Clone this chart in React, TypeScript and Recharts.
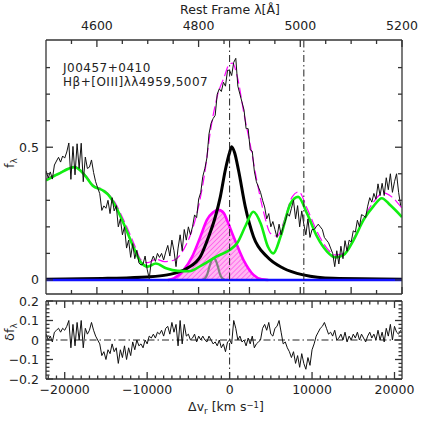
import { ComposedChart, Line, Area, XAxis, YAxis, ReferenceLine } from "recharts";

// velocity frame of Hbeta
const C_KMS = 299792;
const HB_REST = 4861;
const V_MIN = -22270;
const V_MAX = 20910;
const LINE_5007 = 5007;

// observed spectrum + residuals, sampled every 250 km/s from -22250
const SPEC_START = -22250;
const SPEC_STEP = 250;
const OBS_FLUX = [
  0.411, 0.384, 0.407, 0.38, 0.433,
  0.448, 0.462, 0.444, 0.467, 0.459, 0.482,
  0.516, 0.379, 0.503, 0.396, 0.513, 0.42,
  0.515, 0.37, 0.463, 0.42, 0.425, 0.452,
  0.405, 0.37, 0.347, 0.325, 0.262, 0.279,
  0.27, 0.3, 0.25, 0.31, 0.26, 0.28,
  0.2, 0.23, 0.17, 0.2, 0.12, 0.15,
  0.085, 0.137, 0.08, 0.112, 0.064, 0.056,
  0.06, 0.09, 0.04, 0.005, 0.07, 0.09,
  0.07, 0.1, 0.085, 0.1, 0.075, 0.105,
  0.13, 0.09, 0.15, 0.11, 0.05, 0.12,
  0.17, 0.11, 0.19, 0.15, 0.2, 0.17,
  0.2, 0.245, 0.235, 0.305, 0.33, 0.39,
  0.42, 0.46, 0.55, 0.59, 0.608, 0.62,
  0.7, 0.72, 0.71, 0.745, 0.73, 0.79,
  0.79, 0.77, 0.82, 0.835, 0.73, 0.7,
  0.67, 0.64, 0.57, 0.57, 0.49, 0.485,
  0.41, 0.37, 0.35, 0.33, 0.3, 0.275,
  0.23, 0.25, 0.2, 0.22, 0.19, 0.16,
  0.21, 0.17, 0.2, 0.22, 0.25, 0.24,
  0.27, 0.3, 0.23, 0.28, 0.2, 0.26,
  0.21, 0.17, 0.23, 0.16, 0.19, 0.19,
  0.2, 0.21, 0.2, 0.19, 0.16, 0.15,
  0.14, 0.12, 0.1, 0.05, 0.11, 0.06,
  0.127, 0.08, 0.148, 0.108, 0.15, 0.143,
  0.185, 0.18, 0.225, 0.2, 0.246, 0.242,
  0.235, 0.278, 0.31, 0.293, 0.326, 0.304,
  0.362, 0.318, 0.364, 0.318, 0.385, 0.34,
  0.4, 0.33, 0.37, 0.4, 0.33, 0.28,
];
const RESID = [
  0.03, 0.0, 0.02, -0.01, 0.04,
  0.05, 0.06, 0.04, 0.06, 0.05, 0.07,
  0.1, -0.04, 0.08, -0.03, 0.09, 0.0,
  0.1, -0.04, 0.06, 0.03, 0.05, 0.09,
  0.05, 0.02, 0.0, -0.02, -0.08, -0.06,
  -0.1, -0.05, -0.07, -0.02, -0.06, -0.04,
  -0.12, -0.05, -0.09, -0.03, -0.1, -0.04,
  -0.08, -0.01, -0.05, 0.0, -0.03, -0.02,
  -0.04, 0.0, -0.02, 0.02, 0.01, 0.03,
  0.01, 0.04, 0.03, 0.05, 0.02, 0.06,
  0.07, 0.03, 0.09, 0.04, 0.08, -0.03,
  0.1, -0.02, 0.08, 0.02, 0.03, 0.0,
  0.01, 0.03, -0.01, 0.02, 0.0, 0.02,
  0.0, -0.01, 0.02, 0.0, -0.02, -0.01,
  -0.03, 0.0, -0.04, -0.02, -0.06, -0.01,
  0.0, -0.02, 0.1, 0.06, 0.0, 0.02,
  -0.01, 0.0, -0.03, 0.01, -0.02, 0.02,
  -0.04, -0.02, -0.01, 0.0, 0.06, 0.08,
  0.05, 0.09, 0.03, 0.02, 0.06, 0.07,
  0.1, 0.04, -0.02, -0.01, -0.04, -0.06,
  -0.09, -0.06, -0.12, -0.08, -0.14, -0.07,
  -0.12, -0.15, -0.09, -0.13, -0.05, -0.02,
  0.02, 0.04, 0.06, 0.07, 0.09, 0.06,
  0.03, 0.04, 0.02, 0.05, 0.0, 0.01,
  0.03, 0.0, 0.04, -0.01, 0.02, 0.0,
  0.03, 0.01, 0.04, 0.0, 0.03, 0.01,
  -0.01, 0.02, 0.04, 0.01, 0.03, 0.0,
  0.05, 0.0, 0.04, -0.01, 0.06, 0.02,
  0.08, 0.0, 0.07, 0.04, 0.03, 0.05,
];

// model components [velocity, flux]
const TOTAL_FIT = [
  [-22270, 0.381], [-20800, 0.401], [-18790, 0.426], [-17580, 0.398], [-16370, 0.353],
  [-15360, 0.341], [-13950, 0.294], [-12750, 0.219], [-11540, 0.132], [-10730, 0.075],
  [-9930, 0.065], [-8920, 0.078], [-7910, 0.069], [-6700, 0.075], [-5500, 0.119],
  [-4690, 0.175], [-3890, 0.26], [-3080, 0.39], [-2280, 0.57], [-1470, 0.695],
  [-660, 0.764], [-60, 0.812], [340, 0.817], [950, 0.764], [1750, 0.625],
  [2560, 0.5], [3360, 0.365], [4170, 0.25], [4970, 0.175], [5780, 0.165],
  [6580, 0.219], [7590, 0.313], [8400, 0.332], [9400, 0.269], [10610, 0.182],
  [11820, 0.119], [12830, 0.094], [13830, 0.1], [15040, 0.157], [16250, 0.232],
  [17460, 0.294], [18660, 0.328], [19670, 0.313], [20910, 0.27],
];
const FE_II = [
  [-22270, 0.375], [-20800, 0.399], [-18790, 0.425], [-17580, 0.395], [-16600, 0.355],
  [-15400, 0.338], [-14760, 0.322], [-13950, 0.285], [-12750, 0.205], [-11540, 0.115],
  [-10730, 0.065], [-9950, 0.05], [-8950, 0.062], [-7700, 0.044], [-6300, 0.034],
  [-4900, 0.033], [-3400, 0.055], [-1500, 0.09], [0, 0.113], [950, 0.14],
  [1950, 0.205], [2880, 0.257], [3770, 0.213], [4650, 0.125], [5300, 0.1],
  [6180, 0.163], [7390, 0.288], [8320, 0.313], [9400, 0.25], [10610, 0.163],
  [11820, 0.107], [12830, 0.085], [13830, 0.094], [15040, 0.15], [16250, 0.226],
  [17460, 0.278], [18460, 0.308], [19470, 0.282], [20910, 0.237],
];
const HB_BROAD = [
  [-22270, 0.003], [-14800, 0.006], [-10000, 0.011], [-7560, 0.019], [-5150, 0.044],
  [-3540, 0.088], [-2540, 0.163], [-1730, 0.238], [-1120, 0.314], [-520, 0.414],
  [0, 0.48], [250, 0.502], [600, 0.48], [1075, 0.414], [1900, 0.276],
  [2900, 0.163], [4520, 0.088], [6520, 0.044], [8940, 0.019], [12560, 0.006],
  [20910, 0.003],
];
const HB_INTER = [
  [-7500, 0], [-6770, 0.006], [-5560, 0.038], [-4540, 0.088], [-3540, 0.163],
  [-2750, 0.226], [-2000, 0.255], [-1350, 0.264], [-700, 0.252], [-320, 0.226],
  [480, 0.163], [1690, 0.075], [2900, 0.019], [3900, 0.002], [4700, 0],
];
const HB_NARROW = [
  [-3300, 0], [-3000, 0.005], [-2700, 0.022], [-2450, 0.05], [-2200, 0.072],
  [-1930, 0.082], [-1660, 0.072], [-1420, 0.05], [-1170, 0.022], [-870, 0.005], [-570, 0],
];
const CONTINUUM = [[-22270, 0], [20910, 0]];

// axis ticks
const WAVE_TICKS = [4550, 4600, 4650, 4700, 4750, 4800, 4850, 4900, 4950, 5000, 5050, 5100, 5150, 5200];
const TOP_Y_TICKS = [0, 0.1, 0.2, 0.3, 0.4, 0.5, 0.6, 0.7, 0.8];
const TOP_Y = [-0.053, 0.904];
const RES_Y = [-0.2, 0.2];

const FONT = "'DejaVu Sans', sans-serif";
const INK = "#222";
const FRAME = { stroke: "#333", strokeWidth: 1.3 };
const DASHDOT = "7 3 1.5 3";

const toVel = (w: number) => C_KMS * (w / HB_REST - 1);
const toWave = (v: number) => Math.round(HB_REST * (1 + v / C_KMS));
const pts = (a: number[][]) => a.map(([v, f]) => ({ v, f }));
const specV = OBS_FLUX.map((_, i) => SPEC_START + i * SPEC_STEP);
const obsPts = OBS_FLUX.map((f, i) => ({ v: specV[i], f }));
const resPts = RESID.map((f, i) => ({ v: specV[i], f }));

const waveVel = WAVE_TICKS.map(toVel);
const velTicks: number[] = [];
for (let v = -22000; v <= 20000; v += 1000) velTicks.push(v);
const resTicks: number[] = [];
for (let i = -10; i <= 10; i++) resTicks.push(Math.round(i * 2) / 100);

const minus = (s: string) => s.replace("-", "\u2212");

function makeTick(
  side: "left" | "right" | "top" | "bottom",
  isMajor: (v: number) => boolean,
  label?: (v: number) => string,
  big = 7,
  small = 4
) {
  return (p: any) => {
    const { x, y, payload } = p;
    const val = payload.value as number;
    const major = isMajor(val);
    const len = major ? big : small;
    const txt = major && label ? label(val) : null;
    let ln;
    let tx = null;
    if (side === "left") {
      ln = <line x1={x} y1={y} x2={x + len} y2={y} {...FRAME} />;
      if (txt) tx = <text x={x - 7} y={y} dy="0.36em" textAnchor="end">{txt}</text>;
    } else if (side === "right") {
      ln = <line x1={x} y1={y} x2={x - len} y2={y} {...FRAME} />;
    } else if (side === "top") {
      ln = <line x1={x} y1={y} x2={x} y2={y + len} {...FRAME} />;
      if (txt) tx = <text x={x} y={y - 10.5} textAnchor="middle">{txt}</text>;
    } else {
      ln = <line x1={x} y1={y} x2={x} y2={y - len} {...FRAME} />;
      if (txt) tx = <text x={x} y={y + 15} textAnchor="middle">{txt}</text>;
    }
    return (
      <g fontFamily={FONT} fontSize={12.5} fill={INK}>
        {ln}
        {tx}
      </g>
    );
  };
}

// axes get 1px of room (recharts skips zero-sized axes), margins shrink to match
const axisCommon = {
  interval: 0 as const,
  tickSize: 0,
  tickMargin: 0,
  tickLine: false,
  axisLine: FRAME,
  allowDataOverflow: true,
  type: "number" as const,
};

const isWave = (step: number) => (v: number) => toWave(v) % step === 0;
const isVelMajor = (v: number) => Math.abs(v) % 10000 === 0;
const lineBase = { dot: false, activeDot: false, isAnimationActive: false, xAxisId: "b", yAxisId: "l", dataKey: "f" };

function TopPanel() {
  return (
    <ComposedChart width={424} height={296} margin={{ top: 39, right: 21, bottom: 1, left: 45 }}>
      <XAxis xAxisId="b" dataKey="v" domain={[V_MIN, V_MAX]} height={1} ticks={waveVel}
        tick={makeTick("bottom", isWave(100))} {...axisCommon} />
      <XAxis xAxisId="t" orientation="top" dataKey="v" domain={[V_MIN, V_MAX]} height={1} ticks={waveVel}
        tick={makeTick("top", isWave(200), (v) => String(toWave(v)))} {...axisCommon} />
      <YAxis yAxisId="l" domain={TOP_Y} width={1} ticks={TOP_Y_TICKS}
        tick={makeTick("left", (v) => Math.round(v * 10) % 5 === 0, (v) => (v === 0 ? "0" : String(v)))} {...axisCommon} />
      <YAxis yAxisId="r" orientation="right" domain={TOP_Y} width={1} ticks={TOP_Y_TICKS}
        tick={makeTick("right", (v) => Math.round(v * 10) % 5 === 0)} {...axisCommon} />
      <Area {...lineBase} data={pts(HB_INTER)} type="monotone" stroke="#ff00ff" strokeWidth={2.6}
        fill="url(#hatch)" fillOpacity={1} baseValue={0} />
      <Line {...lineBase} data={pts(HB_NARROW)} type="monotone" stroke="#808080" strokeWidth={2.2} />
      <Line {...lineBase} data={pts(HB_BROAD)} type="monotone" stroke="#000" strokeWidth={3} />
      <Line {...lineBase} data={pts(TOTAL_FIT)} type="monotone" stroke="#ff00ff" strokeWidth={1.2} strokeDasharray="10 4" />
      <Line {...lineBase} data={pts(FE_II)} type="monotone" stroke="#11ee11" strokeWidth={2.6} />
      <Line {...lineBase} data={pts(CONTINUUM)} type="linear" stroke="#1010ff" strokeWidth={2.6} />
      <Line {...lineBase} data={obsPts} type="linear" stroke="#111" strokeWidth={1} />
      <ReferenceLine xAxisId="b" yAxisId="l" x={0} stroke={INK} strokeWidth={1} strokeDasharray={DASHDOT} />
      <ReferenceLine xAxisId="b" yAxisId="l" x={toVel(LINE_5007)} stroke={INK} strokeWidth={1} strokeDasharray={DASHDOT} />
    </ComposedChart>
  );
}

function ResidualPanel() {
  return (
    <ComposedChart width={424} height={424} margin={{ top: 300, right: 21, bottom: 44, left: 45 }}>
      <XAxis xAxisId="b" dataKey="v" domain={[V_MIN, V_MAX]} height={1} ticks={velTicks}
        tick={makeTick("bottom", isVelMajor, (v) => minus(String(v)), 7, 3.5)} {...axisCommon} />
      <XAxis xAxisId="t" orientation="top" dataKey="v" domain={[V_MIN, V_MAX]} height={1} ticks={velTicks}
        tick={makeTick("top", isVelMajor, undefined, 7, 3.5)} {...axisCommon} />
      <YAxis yAxisId="l" domain={RES_Y} width={1} ticks={resTicks}
        tick={makeTick("left", (v) => Math.round(v * 100) % 10 === 0, (v) => (v === 0 ? "0" : minus(v.toFixed(1))), 7, 3.5)} {...axisCommon} />
      <YAxis yAxisId="r" orientation="right" domain={RES_Y} width={1} ticks={resTicks}
        tick={makeTick("right", (v) => Math.round(v * 100) % 10 === 0, undefined, 7, 3.5)} {...axisCommon} />
      <ReferenceLine xAxisId="b" yAxisId="l" y={0} stroke={INK} strokeWidth={1} strokeDasharray={DASHDOT} />
      <ReferenceLine xAxisId="b" yAxisId="l" x={0} stroke={INK} strokeWidth={1} strokeDasharray={DASHDOT} />
      <Line {...lineBase} data={resPts} type="linear" stroke="#111" strokeWidth={1} />
    </ComposedChart>
  );
}

export default function App() {
  const abs = { position: "absolute" as const, left: 0, top: 0 };
  return (
    <div style={{ ...abs, width: 424, height: 424, background: "#fff", overflow: "hidden" }}>
      <svg width={0} height={0} style={{ position: "absolute" }}>
        <defs>
          <pattern id="hatch" width="3.5" height="3.5" patternUnits="userSpaceOnUse" patternTransform="rotate(45)">
            <rect width="3.5" height="3.5" fill="#ffb8f2" />
            <line x1="0" y1="0" x2="0" y2="3.5" stroke="#ff40e8" strokeWidth="1.2" />
          </pattern>
        </defs>
      </svg>
      <div style={abs}>
        <TopPanel />
      </div>
      <div style={abs}>
        <ResidualPanel />
      </div>
      <svg width={424} height={424} style={{ ...abs, pointerEvents: "none" }} fontFamily={FONT} fill={INK}>
        <text x={230} y={13.5} fontSize={12.5} textAnchor="middle">Rest Frame λ[Å]</text>
        <text x={63} y={72} fontSize={12} letterSpacing={0.5}>J00457+0410</text>
        <text x={63} y={86} fontSize={12} letterSpacing={0.5}>Hβ+[OIII]λλ4959,5007</text>
        <text x={226} y={411} fontSize={12.5} textAnchor="middle">
          Δv<tspan fontSize={9} dy={2.5}>r</tspan>
          <tspan dy={-2.5}> [km s</tspan>
          <tspan fontSize={8.5} dy={-3.5}>−1</tspan>
          <tspan dy={3.5}>]</tspan>
        </text>
        <text x={14} y={163} fontSize={13} textAnchor="middle" transform="rotate(-90 14 163)">
          f<tspan fontSize={9} dy={3}>λ</tspan>
        </text>
        <text x={14} y={332} fontSize={13} textAnchor="middle" transform="rotate(-90 14 332)">
          δf<tspan fontSize={9} dy={3}>λ</tspan>
        </text>
      </svg>
    </div>
  );
}
